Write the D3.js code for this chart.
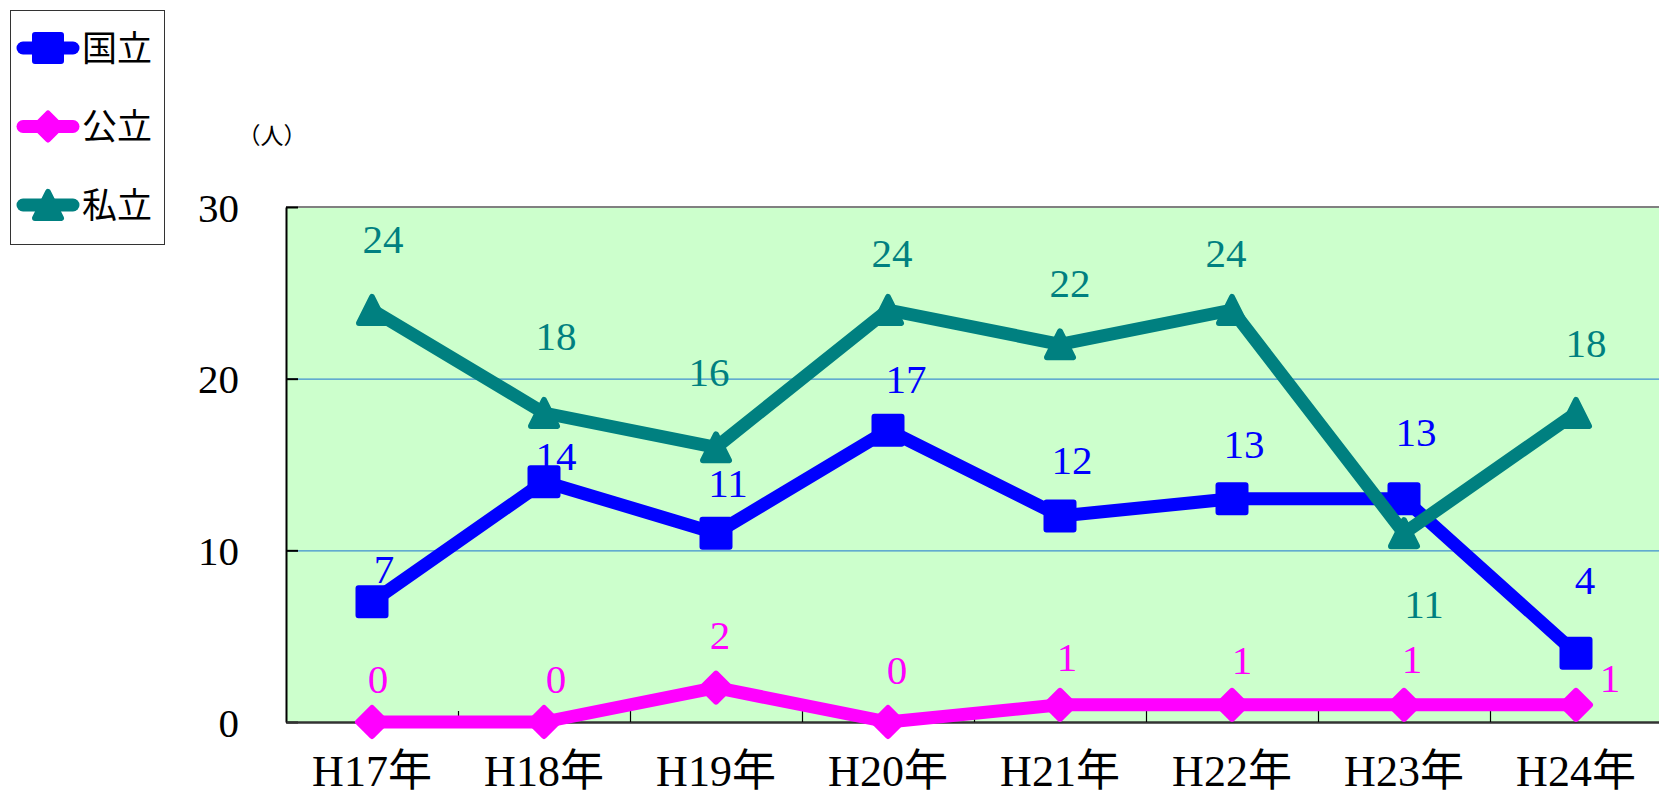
<!DOCTYPE html>
<html lang="ja">
<head>
<meta charset="utf-8">
<title>国立・公立・私立 推移</title>
<script src="https://d3js.org/d3.v7.min.js"></script>
<style>
  html, body { margin: 0; padding: 0; background: #fff; }
  svg text { font-family: "Liberation Serif", "Noto Sans CJK JP", serif; }
</style>
</head>
<body>
<div id="chart"></div>
<script>
// data
var years = ["H17年", "H18年", "H19年", "H20年", "H21年", "H22年", "H23年", "H24年"];
var kokuritsu = [7, 14, 11, 17, 12, 13, 13, 4];
var kouritsu = [0, 0, 2, 0, 1, 1, 1, 1];
var shiritsu = [24, 18, 16, 24, 22, 24, 11, 18];
var seriesNames = ["国立", "公立", "私立"];
var yTicks = [0, 10, 20, 30];

// layout (plot area)
var W = 1659, H = 797;
var plotLeft = 286, plotRight = 1662, plotTop = 207, plotBottom = 722;

// where each value label sits relative to its point (dx, dy)
var labelNudge = {
  "国立": [[12,-34],[12,-26],[12,-51],[18,-52],[12,-57],[12,-56],[12,-68],[9,-74]],
  "公立": [[6,-44],[12,-44],[4,-53],[9,-53],[7,-49],[10,-46],[8,-47],[34,-28]],
  "私立": [[11,-72],[12,-78],[-7,-76],[4,-58],[10,-62],[-6,-58],[20,70],[10,-71]]
};

var series = [
  {name: "国立", values: kokuritsu, color: "#0000ff", shape: "square"},
  {name: "公立", values: kouritsu, color: "#ff00ff", shape: "diamond"},
  {name: "私立", values: shiritsu, color: "#008080", shape: "triangle"}
];

var svg = d3.select("#chart").append("svg")
    .attr("width", W)
    .attr("height", H);

var x = d3.scaleBand().domain(years).range([plotLeft, plotRight]);
var y = d3.scaleLinear().domain([0, 30]).range([plotBottom, plotTop]);
function cx(i) { return x(years[i]) + x.bandwidth() / 2; }

// plot background
svg.append("rect")
    .attr("x", plotLeft).attr("y", plotTop)
    .attr("width", W - plotLeft).attr("height", plotBottom - plotTop)
    .attr("fill", "#ccffcc");

// gridlines
svg.append("g").selectAll("line")
    .data(yTicks.filter(function(d){ return d > 0 && d < 30; }))
    .enter().append("line")
    .attr("x1", plotLeft).attr("x2", W)
    .attr("y1", function(d){ return y(d) + 0.5; })
    .attr("y2", function(d){ return y(d) + 0.5; })
    .attr("stroke", "#3f8fd0")
    .attr("stroke-width", 1.2);

// top border
svg.append("line")
    .attr("x1", plotLeft).attr("x2", W)
    .attr("y1", plotTop).attr("y2", plotTop)
    .attr("stroke", "#808080").attr("stroke-width", 2);

// y axis, ticks point into the plot
var yAxis = d3.axisRight(y).tickValues(yTicks).tickSize(12).tickSizeOuter(0).tickFormat("");
svg.append("g")
    .attr("transform", "translate(" + plotLeft + ",0)")
    .call(yAxis)
    .call(function(g){
      g.selectAll("path,line").attr("stroke", "#000").attr("stroke-width", 2);
    });

svg.append("g").selectAll("text")
    .data(yTicks).enter().append("text")
    .attr("x", 239)
    .attr("y", function(d){ return y(d); })
    .attr("dy", "0.36em")
    .attr("text-anchor", "end")
    .attr("font-size", 41)
    .text(function(d){ return d; });

// x axis
var xAxis = d3.axisTop(x).tickSize(0).tickSizeOuter(0).tickFormat("");
svg.append("g")
    .attr("transform", "translate(0," + plotBottom + ")")
    .call(xAxis)
    .call(function(g){
      g.select(".domain").attr("stroke", "#333").attr("stroke-width", 2.5);
    });

// category boundary ticks
svg.append("g").selectAll("line")
    .data(years.slice(1)).enter().append("line")
    .attr("x1", function(d){ return Math.round(x(d)) + 0.5; })
    .attr("x2", function(d){ return Math.round(x(d)) + 0.5; })
    .attr("y1", plotBottom - 11).attr("y2", plotBottom)
    .attr("stroke", "#000").attr("stroke-width", 1.2);

svg.append("g").selectAll("text")
    .data(years).enter().append("text")
    .attr("x", function(d){ return x(d) + x.bandwidth() / 2; })
    .attr("y", 770)
    .attr("dy", "0.36em")
    .attr("text-anchor", "middle")
    .attr("font-size", 44)
    .text(function(d){ return d; });

// unit label
svg.append("text")
    .attr("x", 272).attr("y", 136)
    .attr("dy", "0.36em")
    .attr("text-anchor", "middle")
    .attr("font-size", 23)
    .style("font-family", "'Noto Sans CJK JP', sans-serif")
    .text("（人）");

// marker shapes, r = half width
function markerPath(shape, r) {
  if (shape === "square") {
    return "M" + (-r) + "," + (-r) + "H" + r + "V" + r + "H" + (-r) + "Z";
  }
  if (shape === "diamond") {
    return "M0," + (-r) + "L" + r + ",0L0," + r + "L" + (-r) + ",0Z";
  }
  return "M0," + (-r) + "L" + r + "," + r + "L" + (-r) + "," + r + "Z";
}

var line = d3.line()
    .x(function(d, i){ return cx(i); })
    .y(function(d){ return y(d); });

series.forEach(function(s) {
  var g = svg.append("g");
  g.append("path")
      .datum(s.values)
      .attr("d", line)
      .attr("fill", "none")
      .attr("stroke", s.color)
      .attr("stroke-width", 13)
      .attr("stroke-linejoin", "round")
      .attr("stroke-linecap", "round");

  var r = s.shape === "square" ? 13.5 : (s.shape === "diamond" ? 14 : 13);
  g.selectAll(".mk")
      .data(s.values).enter().append("path")
      .attr("class", "mk")
      .attr("transform", function(d, i){ return "translate(" + cx(i) + "," + y(d) + ")"; })
      .attr("d", markerPath(s.shape, r))
      .attr("fill", s.color)
      .attr("stroke", s.color)
      .attr("stroke-width", 6)
      .attr("stroke-linejoin", "round");
});

// value labels
series.forEach(function(s) {
  svg.append("g").selectAll("text")
      .data(s.values).enter().append("text")
      .attr("x", function(d, i){ return cx(i) + labelNudge[s.name][i][0]; })
      .attr("y", function(d, i){ return y(d) + labelNudge[s.name][i][1]; })
      .attr("dy", "0.36em")
      .attr("text-anchor", "middle")
      .attr("font-size", 41)
      .attr("fill", s.color)
      .text(function(d){ return d; });
});

// legend
var legend = svg.append("g");
legend.append("rect")
    .attr("x", 10.5).attr("y", 10.5)
    .attr("width", 154).attr("height", 234)
    .attr("fill", "#fff")
    .attr("stroke", "#333").attr("stroke-width", 1);

series.forEach(function(s, i) {
  var ly = 48 + i * 78.5;
  legend.append("line")
      .attr("x1", 23).attr("x2", 73)
      .attr("y1", ly).attr("y2", ly)
      .attr("stroke", s.color)
      .attr("stroke-width", 13)
      .attr("stroke-linecap", "round");
  legend.append("path")
      .attr("transform", "translate(48," + ly + ")")
      .attr("d", markerPath(s.shape, 13))
      .attr("fill", s.color)
      .attr("stroke", s.color)
      .attr("stroke-width", 6)
      .attr("stroke-linejoin", "round");
  legend.append("text")
      .attr("x", 82).attr("y", ly)
      .attr("dy", "0.36em")
      .attr("font-size", 35)
      .text(seriesNames[i]);
});
</script>
</body>
</html>
